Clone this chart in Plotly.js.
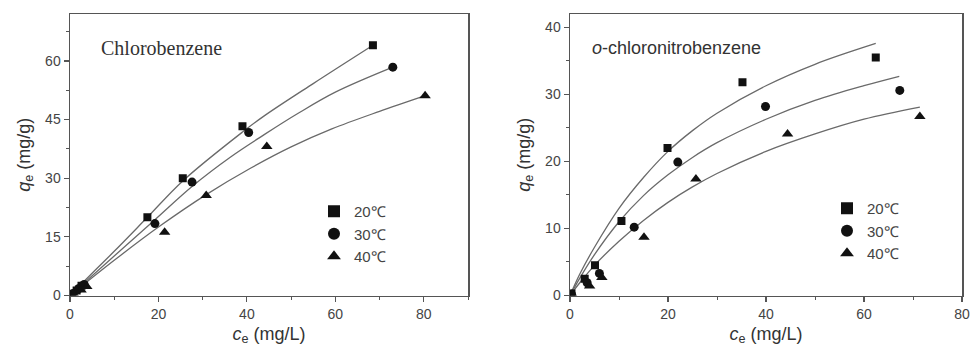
<!DOCTYPE html>
<html>
<head>
<meta charset="utf-8">
<script src="https://cdn.plot.ly/plotly-3.0.1.min.js"></script>
<style>html,body{margin:0;padding:0;background:#fff;}#chart{width:975px;height:355px;}</style>
</head>
<body>
<div id="chart"></div>
<script>
// ---- Data ----
var legendNames = ['20\u2103', '30\u2103', '40\u2103'];

// Chlorobenzene (left panel) – measured points
var cb_c20 = [0.4, 1.5, 2.6, 17.5, 25.5, 39.0, 68.5];
var cb_q20 = [0.4, 1.3, 2.5, 20.0, 30.0, 43.3, 64.0];
var cb_c30 = [0.6, 2.0, 3.2, 19.2, 27.6, 40.4, 73.0];
var cb_q30 = [0.5, 1.8, 2.8, 18.4, 29.0, 41.7, 58.4];
var cb_c40 = [0.8, 2.5, 3.8, 21.4, 30.8, 44.5, 80.3];
var cb_q40 = [0.4, 1.4, 2.3, 16.2, 25.6, 38.1, 51.1];
// Chlorobenzene – fitted curves
var cbFit_c20 = [0, 5, 10, 17.5, 25.5, 39, 44, 55, 68.5];
var cbFit_q20 = [0, 5.7, 11.3, 20, 29.3, 41.8, 46.0, 54.2, 64];
var cbFit_c30 = [0, 10, 19.2, 27.6, 36.4, 44, 51.6, 60, 73];
var cbFit_q30 = [0, 10.1, 19.4, 27.9, 35.5, 41.2, 46.6, 52.0, 58.4];
var cbFit_c40 = [0, 10, 20, 30.8, 40.9, 50, 59.2, 70, 80];
var cbFit_q40 = [0, 9, 17.5, 25.8, 32.6, 38.0, 42.6, 47.1, 51];

// o-chloronitrobenzene (right panel) – measured points
var ocn_c20 = [0.3, 3.0, 5.1, 10.5, 19.9, 35.2, 62.4];
var ocn_q20 = [0.3, 2.5, 4.5, 11.1, 22.0, 31.8, 35.5];
var ocn_c30 = [0.3, 3.5, 6.0, 13.1, 22.0, 39.9, 67.3];
var ocn_q30 = [0.2, 1.9, 3.3, 10.2, 19.9, 28.2, 30.6];
var ocn_c40 = [0.4, 4.0, 6.5, 15.1, 25.7, 44.4, 71.4];
var ocn_q40 = [0.2, 1.4, 2.7, 8.7, 17.4, 24.1, 26.7];
// o-chloronitrobenzene – fitted curves
var ocnFit_c20 = [0, 2, 5, 10, 15, 20, 25, 30, 40, 50, 62.4];
var ocnFit_q20 = [0, 3.2, 7.2, 13.0, 17.6, 21.5, 24.6, 27.2, 31.3, 34.5, 37.6];
var ocnFit_c30 = [0, 2, 5, 10, 15, 20, 25, 30, 40, 50, 60, 67.2];
var ocnFit_q30 = [0, 2.6, 6.1, 11.0, 14.9, 18.0, 20.6, 22.8, 26.3, 29.1, 31.3, 32.7];
var ocnFit_c40 = [0, 2, 5, 10, 15, 20, 25, 30, 40, 50, 60, 71.4];
var ocnFit_q40 = [0, 1.9, 4.5, 8.1, 11.2, 13.9, 16.2, 18.2, 21.5, 24.1, 26.3, 28.1];

var panelLabels = ['Chlorobenzene', '<i>o</i>-chloronitrobenzene'];

// ---- Build traces ----
var symbols = ['square', 'circle', 'triangle-up'];
var sizes = [8, 9, 10];
var lineColor = '#6a6a6a';
var traces = [];

function addPanel(pts, fits, xa, ya, leg) {
  for (var i = 0; i < 3; i++) {
    traces.push({
      x: fits[i][0], y: fits[i][1], xaxis: xa, yaxis: ya,
      type: 'scatter', mode: 'lines', line: {color: lineColor, width: 1.3, shape: 'spline', smoothing: 1},
      showlegend: false, hoverinfo: 'skip'
    });
  }
  for (var j = 0; j < 3; j++) {
    traces.push({
      x: pts[j][0], y: pts[j][1], xaxis: xa, yaxis: ya, name: legendNames[j],
      type: 'scatter', mode: 'markers', legend: leg,
      marker: {symbol: symbols[j], size: sizes[j], color: '#111'}
    });
  }
}
addPanel([[cb_c20, cb_q20], [cb_c30, cb_q30], [cb_c40, cb_q40]],
         [[cbFit_c20, cbFit_q20], [cbFit_c30, cbFit_q30], [cbFit_c40, cbFit_q40]], 'x', 'y', 'legend');
addPanel([[ocn_c20, ocn_q20], [ocn_c30, ocn_q30], [ocn_c40, ocn_q40]],
         [[ocnFit_c20, ocnFit_q20], [ocnFit_c30, ocnFit_q30], [ocnFit_c40, ocnFit_q40]], 'x2', 'y2', 'legend2');

var tickFont = {family: 'Liberation Sans, Arial, sans-serif', size: 14, color: '#444'};
var titleFont = {family: 'Liberation Sans, Arial, sans-serif', size: 18, color: '#333'};
var axColor = '#555';

function xAxis(dom, range, dtick, minor, anchor) {
  return {domain: dom, range: range, dtick: dtick, tick0: 0, anchor: anchor,
    showline: true, mirror: true, linecolor: axColor, linewidth: 1.5,
    ticks: 'outside', ticklen: 5, tickwidth: 1.2, tickcolor: axColor,
    minor: {ticks: 'outside', ticklen: 3, dtick: minor, tickcolor: axColor, tickwidth: 1},
    showgrid: false, zeroline: false, tickfont: tickFont,
    title: {text: '<i>c</i><sub>e</sub> (mg/L)', font: titleFont, standoff: 6}};
}
function yAxis(dom, range, dtick, minor, anchor) {
  return {domain: dom, range: range, dtick: dtick, tick0: 0, anchor: anchor,
    showline: true, mirror: true, linecolor: axColor, linewidth: 1.5,
    ticks: 'outside', ticklen: 5, tickwidth: 1.2, tickcolor: axColor,
    minor: {ticks: 'outside', ticklen: 3, dtick: minor, tickcolor: axColor, tickwidth: 1},
    showgrid: false, zeroline: false, tickfont: tickFont,
    title: {text: '<i>q</i><sub>e</sub> (mg/g)', font: titleFont, standoff: 10}};
}

var yDom = [1 - 295.5 / 355, 1 - 14 / 355];
var layout = {
  width: 975, height: 355,
  margin: {l: 0, r: 0, t: 0, b: 0},
  paper_bgcolor: '#fff', plot_bgcolor: '#fff',
  xaxis: xAxis([70 / 975, 468 / 975], [0, 90], 20, 10, 'y'),
  yaxis: yAxis(yDom, [0, 72], 15, 7.5, 'x'),
  xaxis2: xAxis([570 / 975, 962 / 975], [0, 80], 20, 10, 'y2'),
  yaxis2: yAxis(yDom, [0, 42], 10, 5, 'x2'),
  legend: {x: 314 / 975, y: 1 - 195 / 355, xanchor: 'left', yanchor: 'top',
    font: {family: 'Liberation Sans, Arial, sans-serif', size: 15, color: '#444'},
    itemsizing: 'constant', bgcolor: 'rgba(0,0,0,0)', tracegroupgap: 0},
  legend2: {x: 827 / 975, y: 1 - 192 / 355, xanchor: 'left', yanchor: 'top',
    font: {family: 'Liberation Sans, Arial, sans-serif', size: 15, color: '#444'},
    itemsizing: 'constant', bgcolor: 'rgba(0,0,0,0)', tracegroupgap: 0},
  annotations: [
    {xref: 'paper', yref: 'paper', x: 99 / 975, y: 1 - 48 / 355, xanchor: 'left', yanchor: 'middle',
     text: panelLabels[0], showarrow: false,
     font: {family: 'Liberation Serif, Times New Roman, serif', size: 20, color: '#333'}},
    {xref: 'paper', yref: 'paper', x: 590 / 975, y: 1 - 48 / 355, xanchor: 'left', yanchor: 'middle',
     text: panelLabels[1], showarrow: false,
     font: {family: 'Liberation Sans, Arial, sans-serif', size: 18, color: '#333'}}
  ]
};

Plotly.newPlot('chart', traces, layout, {staticPlot: true, displayModeBar: false});
</script>
</body>
</html>
